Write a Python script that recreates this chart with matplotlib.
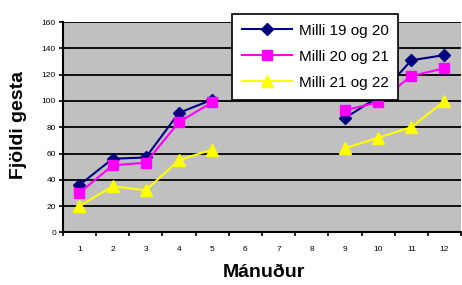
import numpy as np
import matplotlib
matplotlib.use("Agg")
import matplotlib.pyplot as plt

plt.rcParams["font.family"] = ["Liberation Sans", "DejaVu Sans"]

months = [1, 2, 3, 4, 5, 6, 7, 8, 9, 10, 11, 12]
s1_name = "Milli 19 og 20"
s2_name = "Milli 20 og 21"
s3_name = "Milli 21 og 22"
nan = np.nan
s1 = [36, 56, 57, 91, 101, nan, nan, nan, 87, 103, 131, 135]
s2 = [30, 51, 53, 84, 99, nan, nan, nan, 93, 99, 119, 125]
s3 = [20, 35, 32, 55, 63, nan, nan, nan, 64, 72, 80, 100]
y_ticks = [0, 20, 40, 60, 80, 100, 120, 140, 160]

fig = plt.figure(figsize=(4.62, 2.85), dpi=100)
ax = fig.add_axes([0.136, 0.185, 0.862, 0.737])
ax.set_facecolor("#C0C0C0")

for y in y_ticks[1:]:
    ax.axhline(y, color="black", lw=1.3, zorder=1)

ax.plot(months, s1, color="#000080", marker="D", ms=6, lw=1.5, label=s1_name, zorder=3)
ax.plot(months, s2, color="#FF00FF", marker="s", ms=7, lw=1.5, label=s2_name, zorder=4,
        markerfacecolor="#FF00FF", markeredgecolor="#FF00FF")
ax.plot(months, s3, color="#FFFF00", marker="^", ms=9, lw=1.5, label=s3_name, zorder=2)

ax.set_xlim(0.5, 12.5)
ax.set_ylim(0, 160)
ax.set_yticks(y_ticks)
ax.set_xticks(months)
ax.set_xticks(np.arange(0.5, 13, 1), minor=True)
ax.tick_params(axis="x", which="major", length=0, labelsize=6, pad=10)
ax.tick_params(axis="x", which="minor", length=3, width=1.2, direction="out")
ax.tick_params(axis="y", length=3, width=1.2, labelsize=6, pad=2)

for side in ["top", "right"]:
    ax.spines[side].set_visible(False)
ax.spines["left"].set_linewidth(1.5)
ax.spines["bottom"].set_linewidth(1.5)

ax.set_ylabel("Fjöldi gesta", fontsize=14, fontweight="bold")
ax.yaxis.set_label_coords(-0.09, 0.51)
ax.set_xlabel("Mánuður", fontsize=14, fontweight="bold")
ax.xaxis.set_label_coords(0.505, -0.15)

leg = ax.legend(loc="upper left", bbox_to_anchor=(0.425, 1.04), fontsize=11,
                frameon=True, fancybox=False, edgecolor="black", framealpha=1,
                handlelength=3.3, borderpad=0.65, labelspacing=0.78, handletextpad=0.4,
                borderaxespad=0)
leg.get_frame().set_linewidth(1.2)

fig.savefig("out.png", dpi=100)
